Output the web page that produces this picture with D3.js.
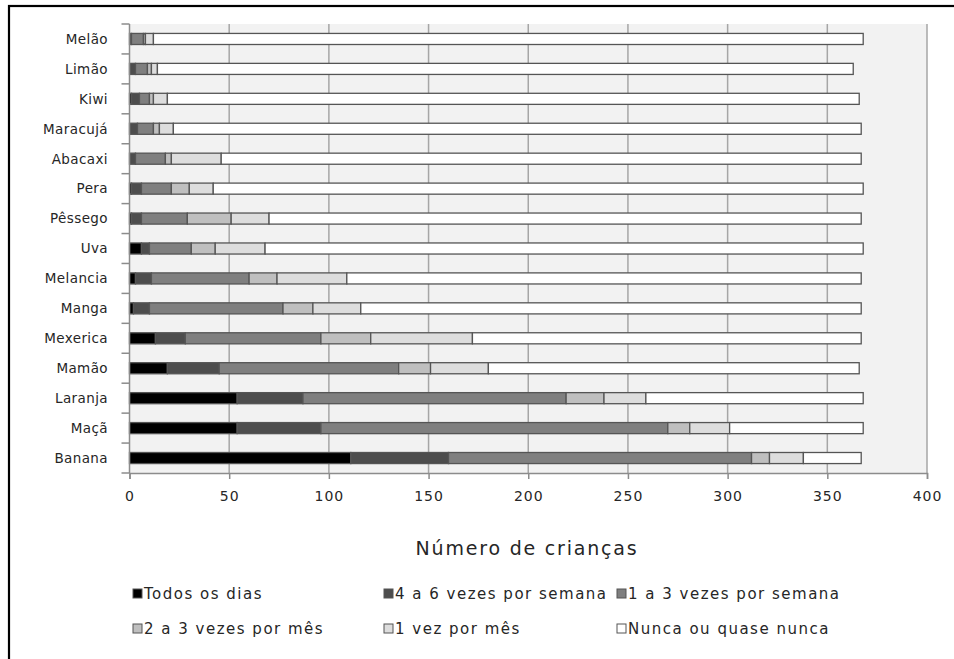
<!DOCTYPE html>
<html>
<head>
<meta charset="utf-8">
<script src="https://cdn.jsdelivr.net/npm/d3@7"></script>
<style>
  html, body { margin: 0; padding: 0; background: #fff; }
  svg { display: block; }
  text { font-family: "DejaVu Sans", Verdana, sans-serif; fill: #262626; }
</style>
</head>
<body>
<svg id="chart" width="954" height="659"></svg>
<script>
// Fruits, top to bottom as drawn
const fruits = ['Melão', 'Limão', 'Kiwi', 'Maracujá', 'Abacaxi', 'Pera', 'Pêssego', 'Uva',
  'Melancia', 'Manga', 'Mexerica', 'Mamão', 'Laranja', 'Maçã', 'Banana'];

const categories = ['Todos os dias', '4 a 6 vezes por semana', '1 a 3 vezes por semana',
  '2 a 3 vezes por mês', '1 vez por mês', 'Nunca ou quase nunca'];

// counts per fruit, same order as fruits
const todosDias   = [0, 0, 1, 0, 0, 1, 1, 6, 3, 2, 13, 19, 54, 54, 111];
const quatroSeis  = [1, 3, 4, 4, 3, 5, 5, 4, 8, 8, 15, 26, 33, 42, 49];
const umTresSem   = [6, 6, 5, 8, 15, 15, 23, 21, 49, 67, 68, 90, 132, 174, 152];
const doisTresMes = [1, 2, 2, 3, 3, 9, 22, 12, 14, 15, 25, 16, 19, 11, 9];
const umVezMes    = [4, 3, 7, 7, 25, 12, 19, 25, 35, 24, 51, 29, 21, 20, 17];
const nunca       = [356, 349, 347, 345, 321, 326, 297, 300, 258, 251, 195, 186, 109, 67, 29];

const xTicks = [0, 50, 100, 150, 200, 250, 300, 350, 400];
const colors = ['#000000', '#4d4d4d', '#7f7f7f', '#bfbfbf', '#dddddd', '#ffffff'];

const series = [todosDias, quatroSeis, umTresSem, doisTresMes, umVezMes, nunca];
const rows = fruits.map((f, i) => {
  const r = { fruit: f };
  categories.forEach((c, k) => { r[c] = series[k][i]; });
  return r;
});

const svg = d3.select('#chart');
const plot = { left: 129.5, right: 927, top: 24, bottom: 473 };

const x = d3.scaleLinear().domain([0, 400]).range([plot.left, plot.right]);
const y = d3.scaleBand().domain(fruits).range([plot.top, plot.bottom]);
const barH = y.bandwidth() * 0.37;

// outer frame (only left and top visible in the picture)
svg.append('rect')
  .attr('x', 9).attr('y', 6)
  .attr('width', 1000).attr('height', 700)
  .attr('fill', 'none').attr('stroke', '#000').attr('stroke-width', 2.2);

// plot background
svg.append('rect')
  .attr('x', plot.left).attr('y', plot.top)
  .attr('width', plot.right - plot.left).attr('height', plot.bottom - plot.top)
  .attr('fill', '#f2f2f2');

// vertical gridlines
svg.append('g')
  .selectAll('line')
  .data(xTicks.slice(1))
  .enter().append('line')
  .attr('x1', d => x(d)).attr('x2', d => x(d))
  .attr('y1', plot.top).attr('y2', plot.bottom)
  .attr('stroke', '#a6a6a6').attr('stroke-width', 1.5);

// stacked bars
const stack = d3.stack().keys(categories)(rows);
svg.append('g')
  .selectAll('g')
  .data(stack)
  .enter().append('g')
  .attr('fill', (d, i) => colors[i])
  .selectAll('rect')
  .data(d => d)
  .enter().append('rect')
  .filter(d => d[1] > d[0])
  .attr('x', d => x(d[0]))
  .attr('width', d => x(d[1]) - x(d[0]))
  .attr('y', d => y(d.data.fruit) + (y.bandwidth() - barH) / 2)
  .attr('height', barH)
  .attr('stroke', '#555')
  .attr('stroke-width', 1.3);

// left axis with ticks at band edges
const yAxis = svg.append('g');
yAxis.append('line')
  .attr('x1', plot.left).attr('x2', plot.left)
  .attr('y1', plot.top).attr('y2', plot.bottom)
  .attr('stroke', '#8c8c8c').attr('stroke-width', 1.5);
const edges = fruits.map(f => y(f)).concat([plot.bottom]);
yAxis.selectAll('line.tk')
  .data(edges)
  .enter().append('line')
  .attr('class', 'tk')
  .attr('x1', plot.left - 8).attr('x2', plot.left)
  .attr('y1', d => d).attr('y2', d => d)
  .attr('stroke', '#8c8c8c').attr('stroke-width', 1.5);
yAxis.selectAll('text')
  .data(fruits)
  .enter().append('text')
  .attr('x', 108)
  .attr('y', d => y(d) + y.bandwidth() / 2)
  .attr('dy', '0.36em')
  .attr('text-anchor', 'end')
  .attr('font-size', 13.5)
  .attr('letter-spacing', 0.4)
  .text(d => d);

// bottom axis
const xAxis = d3.axisBottom(x).tickValues(xTicks).tickSize(6).tickPadding(12);
const xg = svg.append('g')
  .attr('transform', `translate(0,${plot.bottom})`)
  .call(xAxis);
xg.select('.domain').attr('stroke', '#8c8c8c').attr('stroke-width', 1.5);
xg.selectAll('.tick line').attr('stroke', '#8c8c8c').attr('stroke-width', 1.5);
xg.selectAll('.tick text')
  .attr('font-size', 14)
  .attr('letter-spacing', 1)
  .attr('font-family', '"DejaVu Sans", Verdana, sans-serif')
  .attr('fill', '#262626');

// axis title
svg.append('text')
  .attr('x', 527).attr('y', 555)
  .attr('text-anchor', 'middle')
  .attr('font-size', 19)
  .attr('letter-spacing', 1.8)
  .attr('font-family', '"Open Sans", "DejaVu Sans", sans-serif')
  .text('Número de crianças');

// legend
const legendX = [133, 384, 617];
const legendY = [594, 629];
const legend = svg.append('g')
  .selectAll('g')
  .data(categories)
  .enter().append('g')
  .attr('transform', (d, i) => `translate(${legendX[i % 3]},${legendY[Math.floor(i / 3)]})`);
legend.append('rect')
  .attr('x', 0).attr('y', -5)
  .attr('width', 9).attr('height', 9)
  .attr('fill', (d, i) => colors[i])
  .attr('stroke', '#555').attr('stroke-width', 1);
legend.append('text')
  .attr('x', 11).attr('y', 0)
  .attr('dy', '0.36em')
  .attr('font-size', 15)
  .attr('letter-spacing', 1.5)
  .text(d => d);
</script>
</body>
</html>
